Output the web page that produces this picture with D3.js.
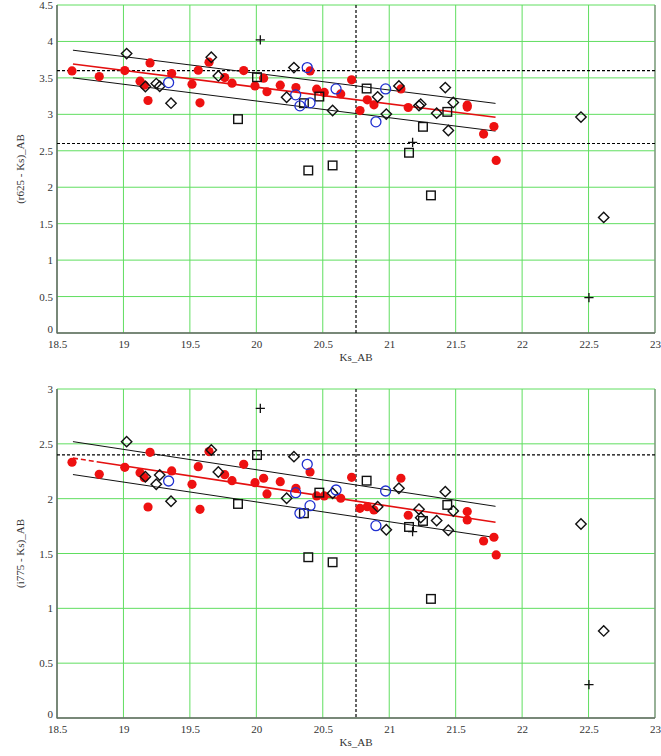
<!DOCTYPE html>
<html>
<head>
<meta charset="utf-8">
<script src="https://cdn.jsdelivr.net/npm/d3@7"></script>
<style>
  html, body { margin: 0; padding: 0; background: #fff; }
  svg { display: block; }
  text { font-family: "Liberation Serif", "Times New Roman", serif; fill: #333; }
</style>
</head>
<body>
<svg id="chart" width="661" height="756"></svg>
<script>
// ---------- data ----------
const xTicks = [18.5, 19, 19.5, 20, 20.5, 21, 21.5, 22, 22.5, 23];
const yTicksTop = [0, 0.5, 1, 1.5, 2, 2.5, 3, 3.5, 4, 4.5];
const yTicksBottom = [0, 0.5, 1, 1.5, 2, 2.5, 3];

// red filled circles
const redKs   = [18.613, 18.818, 19.01, 19.20, 19.125, 19.157, 19.185, 19.363, 19.516, 19.563, 19.576, 19.644, 19.762, 19.817, 19.905, 19.99, 20.055, 20.08, 20.18, 20.298, 20.404, 20.454, 20.511, 20.635, 20.717, 20.78, 20.835, 20.885, 21.088, 21.143, 21.587, 21.587, 21.71, 21.788, 21.805];
const redR625 = [3.596, 3.518, 3.60, 3.705, 3.455, 3.40, 3.19, 3.559, 3.414, 3.605, 3.158, 3.715, 3.504, 3.427, 3.60, 3.39, 3.496, 3.31, 3.40, 3.367, 3.596, 3.345, 3.30, 3.28, 3.473, 3.052, 3.199, 3.13, 3.349, 3.094, 3.126, 3.10, 2.729, 2.833, 2.367];
const redI775 = [2.332, 2.222, 2.286, 2.423, 2.237, 2.191, 1.924, 2.253, 2.131, 2.292, 1.903, 2.429, 2.219, 2.164, 2.313, 2.146, 2.186, 2.043, 2.155, 2.095, 2.243, 2.025, 2.025, 2.004, 2.195, 1.912, 1.927, 1.897, 2.186, 1.849, 1.882, 1.806, 1.614, 1.648, 1.487];

// blue open circles
const blueKs   = [19.34, 20.383, 20.296, 20.328, 20.404, 20.6, 20.973, 20.90];
const blueR625 = [3.436, 3.641, 3.267, 3.116, 3.158, 3.349, 3.349, 2.897];
const blueI775 = [2.161, 2.313, 2.055, 1.867, 1.936, 2.079, 2.07, 1.754];

// open diamonds
const diamondKs   = [19.024, 19.165, 19.247, 19.273, 19.358, 19.661, 19.714, 20.283, 20.228, 20.574, 20.913, 20.978, 21.073, 21.224, 21.237, 21.357, 21.422, 21.482, 21.445, 22.443, 22.614];
const diamondR625 = [3.833, 3.381, 3.422, 3.386, 3.153, 3.783, 3.527, 3.641, 3.235, 3.052, 3.240, 3.003, 3.390, 3.12, 3.14, 3.016, 3.367, 3.162, 2.778, 2.962, 1.586];
const diamondI775 = [2.52, 2.20, 2.131, 2.216, 1.976, 2.444, 2.243, 2.383, 2.004, 2.049, 1.927, 1.717, 2.095, 1.903, 1.827, 1.80, 2.064, 1.888, 1.712, 1.769, 0.794];

// open squares
const squareKs   = [20.005, 19.862, 20.474, 20.358, 20.83, 21.254, 21.437, 21.149, 20.391, 20.574, 21.314];
const squareR625 = [3.51, 2.934, 3.244, 3.153, 3.354, 2.829, 3.034, 2.473, 2.23, 2.299, 1.888];
const squareI775 = [2.398, 1.952, 2.055, 1.867, 2.164, 1.797, 1.943, 1.742, 1.466, 1.42, 1.086];

// plus signs
const plusKs   = [20.03, 21.176, 22.503];
const plusR625 = [4.021, 2.614, 0.486];
const plusI775 = [2.824, 1.70, 0.305];

// fit lines (endpoints)
const fitKs = [18.62, 21.80];
const fitTopMid = [3.69, 2.96];
const fitTopUp  = [3.88, 3.15];
const fitTopLow = [3.50, 2.77];
const fitBotMid = [2.37, 1.785];
const fitBotUp  = [2.52, 1.93];
const fitBotLow = [2.22, 1.645];

// reference (dashed) lines
const refKs = [20.75];
const refTop = [3.6, 2.6];
const refBottom = [2.4];

// ---------- drawing ----------
const svg = d3.select("#chart");
const left = 57, right = 655;
const x = d3.scaleLinear().domain([18.5, 23]).range([left, right]);
const GRID = "#60de60";

function panel(cfg) {
  const y = d3.scaleLinear().domain([0, cfg.yMax]).range([cfg.bottom, cfg.top]);
  const g = svg.append("g");

  // grid
  g.selectAll(".vg").data(xTicks).join("line")
    .attr("x1", d => x(d)).attr("x2", d => x(d))
    .attr("y1", cfg.top).attr("y2", cfg.bottom)
    .attr("stroke", GRID).attr("stroke-width", 1);
  g.selectAll(".hg").data(cfg.yTicks).join("line")
    .attr("x1", left).attr("x2", right)
    .attr("y1", d => y(d)).attr("y2", d => y(d))
    .attr("stroke", GRID).attr("stroke-width", 1);

  // frame: right border gray
  g.append("line").attr("x1", right).attr("x2", right).attr("y1", cfg.top).attr("y2", cfg.bottom)
    .attr("stroke", "#888").attr("stroke-width", 1.2);

  // axes (labels only)
  const ax = g.append("g").attr("transform", `translate(0,${cfg.bottom})`)
    .call(d3.axisBottom(x).tickValues(xTicks).tickSize(0).tickPadding(7).tickFormat(d3.format("")));
  ax.select(".domain").remove();
  ax.selectAll("text").attr("font-size", 11).attr("font-family", "Liberation Serif, serif").attr("fill", "#333");

  const ay = g.append("g").attr("transform", `translate(${left},0)`)
    .call(d3.axisLeft(y).tickValues(cfg.yTicks).tickSize(0).tickPadding(4).tickFormat(d3.format("")));
  ay.select(".domain").remove();
  ay.selectAll("text").attr("font-size", 11).attr("font-family", "Liberation Serif, serif").attr("fill", "#333");
  // nudge the zero label up slightly so it only touches the first x label
  ay.selectAll(".tick").filter(d => d === 0).select("text").attr("dy", "-0.05em");

  g.append("line").attr("x1", left).attr("x2", left).attr("y1", cfg.top).attr("y2", cfg.bottom + 0.5)
    .attr("stroke", "#666").attr("stroke-width", 1.5);
  g.append("line").attr("x1", left).attr("x2", right).attr("y1", cfg.bottom).attr("y2", cfg.bottom)
    .attr("stroke", "#666").attr("stroke-width", 1.5);

  // dashed reference lines
  g.selectAll(".rh").data(cfg.refY).join("line")
    .attr("x1", left).attr("x2", right)
    .attr("y1", d => y(d)).attr("y2", d => y(d))
    .attr("stroke", "#000").attr("stroke-width", 1.2).attr("stroke-dasharray", "3,2");
  g.selectAll(".rv").data(refKs).join("line")
    .attr("x1", d => x(d)).attr("x2", d => x(d))
    .attr("y1", cfg.top).attr("y2", cfg.bottom)
    .attr("stroke", "#000").attr("stroke-width", 1.2).attr("stroke-dasharray", "3,2");

  // fit lines
  const line = d3.line().x(d => x(d[0])).y(d => y(d[1]));
  [cfg.fitUp, cfg.fitLow].forEach(v => {
    g.append("path").attr("d", line(d3.zip(fitKs, v)))
      .attr("fill", "none").attr("stroke", "#111").attr("stroke-width", 1);
  });
  g.append("path").attr("d", line(d3.zip(fitKs, cfg.fitMid)))
    .attr("fill", "none").attr("stroke", "#e41010").attr("stroke-width", 1.6)
    .attr("stroke-dasharray", cfg.redDash || null);

  // markers
  const red = d3.zip(redKs, cfg.red);
  g.selectAll(".red").data(red).join("circle")
    .attr("cx", d => x(d[0])).attr("cy", d => y(d[1])).attr("r", 4.6)
    .attr("fill", "#ee1111");

  const dia = d3.zip(diamondKs, cfg.diamond);
  const dr = 5.2;
  g.selectAll(".dia").data(dia).join("path")
    .attr("d", d => { const cx = x(d[0]), cy = y(d[1]);
      return `M${cx},${cy - dr}L${cx + dr},${cy}L${cx},${cy + dr}L${cx - dr},${cy}Z`; })
    .attr("fill", "none").attr("stroke", "#111").attr("stroke-width", 1.4);

  const sq = d3.zip(squareKs, cfg.square);
  const s = 4.3;
  g.selectAll(".sq").data(sq).join("rect")
    .attr("x", d => x(d[0]) - s).attr("y", d => y(d[1]) - s)
    .attr("width", 2 * s).attr("height", 2 * s)
    .attr("fill", "none").attr("stroke", "#111").attr("stroke-width", 1.4);

  const bl = d3.zip(blueKs, cfg.blue);
  g.selectAll(".bl").data(bl).join("circle")
    .attr("cx", d => x(d[0])).attr("cy", d => y(d[1])).attr("r", 5)
    .attr("fill", "none").attr("stroke", "#2030d0").attr("stroke-width", 1.3);

  const pl = d3.zip(plusKs, cfg.plus);
  const p = 4.6;
  g.selectAll(".pl").data(pl).join("path")
    .attr("d", d => { const cx = x(d[0]), cy = y(d[1]);
      return `M${cx - p},${cy}L${cx + p},${cy}M${cx},${cy - p}L${cx},${cy + p}`; })
    .attr("fill", "none").attr("stroke", "#111").attr("stroke-width", 1.3);

  // titles
  g.append("text").attr("x", (left + right) / 2).attr("y", cfg.bottom + 28)
    .attr("text-anchor", "middle").attr("font-size", 11).text("Ks_AB");
  g.append("text")
    .attr("transform", `translate(21,${(cfg.top + cfg.bottom) / 2}) rotate(-90)`)
    .attr("text-anchor", "middle").attr("dominant-baseline", "middle")
    .attr("font-size", 11).text(cfg.yTitle);
}

panel({
  top: 5, bottom: 333, yMax: 4.5, yTicks: yTicksTop,
  red: redR625, blue: blueR625, diamond: diamondR625, square: squareR625, plus: plusR625,
  fitMid: fitTopMid, fitUp: fitTopUp, fitLow: fitTopLow,
  refY: refTop, yTitle: "(r625 - Ks)_AB"
});

panel({
  top: 389, bottom: 718, yMax: 3, yTicks: yTicksBottom,
  red: redI775, blue: blueI775, diamond: diamondI775, square: squareI775, plus: plusI775,
  fitMid: fitBotMid, fitUp: fitBotUp, fitLow: fitBotLow,
  refY: refBottom, yTitle: "(i775 - Ks)_AB", redDash: "5,3,5,3,5,3,2000"
});
</script>
</body>
</html>
